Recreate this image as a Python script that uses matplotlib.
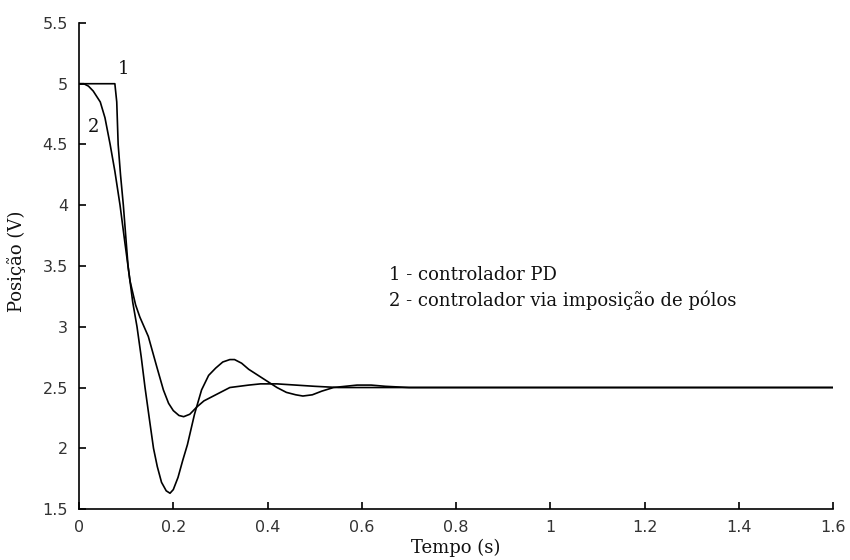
import numpy as np
import matplotlib.pyplot as plt

# curve 1 - controlador PD
t1 = [0.0, 0.076, 0.080, 0.083, 0.088, 0.094, 0.104, 0.114, 0.123, 0.132, 0.140,
      0.150, 0.158, 0.166, 0.175, 0.185, 0.193, 0.200, 0.210, 0.220, 0.230,
      0.245, 0.260, 0.275, 0.290, 0.305, 0.320, 0.330, 0.345, 0.360, 0.380,
      0.400, 0.420, 0.440, 0.460, 0.475, 0.495, 0.515, 0.540, 0.565, 0.590,
      0.620, 0.650, 0.700, 1.600]
y1 = [5.0, 5.0, 4.85, 4.5, 4.25, 4.0, 3.5, 3.2, 3.0, 2.75, 2.5,
      2.22, 2.0, 1.85, 1.72, 1.65, 1.63, 1.66, 1.76, 1.90, 2.03,
      2.28, 2.48, 2.60, 2.66, 2.71, 2.73, 2.73, 2.70, 2.65, 2.60,
      2.55, 2.50, 2.46, 2.44, 2.43, 2.44, 2.47, 2.50, 2.51, 2.52,
      2.52, 2.51, 2.50, 2.50]

# curve 2 - controlador via imposicao de polos
t2 = [0.0, 0.010, 0.020, 0.030, 0.045, 0.055, 0.066, 0.076, 0.087, 0.097,
      0.108, 0.120, 0.129, 0.147, 0.165, 0.179, 0.190, 0.200, 0.212, 0.222,
      0.235, 0.250, 0.265, 0.280, 0.300, 0.320, 0.340, 0.360, 0.385, 0.420,
      0.460, 0.500, 0.550, 1.600]
y2 = [5.0, 5.0, 4.98, 4.94, 4.85, 4.72, 4.5, 4.28, 4.0, 3.70,
      3.38, 3.18, 3.08, 2.92, 2.67, 2.48, 2.37, 2.31, 2.27, 2.26,
      2.28, 2.34, 2.39, 2.42, 2.46, 2.50, 2.51, 2.52, 2.53, 2.53,
      2.52, 2.51, 2.50, 2.50]

legend_lines = ["1 - controlador PD", "2 - controlador via imposição de pólos"]

serif = "DejaVu Serif"

fig = plt.figure(figsize=(8.5, 5.6), dpi=100)
ax = fig.add_axes([0.093, 0.091, 0.887, 0.868])

ax.plot(t1, y1, color="black", linewidth=1.2)
ax.plot(t2, y2, color="black", linewidth=1.2)

ax.text(0.083, 5.08, "1", fontsize=13, family=serif, color="#111111")
ax.text(0.018, 4.60, "2", fontsize=13, family=serif, color="#111111")

ax.text(0.658, 3.43, legend_lines[0], fontsize=13, family=serif,
        va="center", color="#111111")
ax.text(0.658, 3.22, legend_lines[1], fontsize=13, family=serif,
        va="center", color="#111111")

ax.set_xlim(0, 1.6)
ax.set_ylim(1.5, 5.5)
ax.set_xticks(np.arange(0, 1.61, 0.2))
ax.set_yticks(np.arange(1.5, 5.51, 0.5))
ax.set_xticklabels(["0", "0.2", "0.4", "0.6", "0.8", "1", "1.2", "1.4", "1.6"])
ax.set_yticklabels(["1.5", "2", "2.5", "3", "3.5", "4", "4.5", "5", "5.5"])
ax.tick_params(direction="in", length=5, width=1.2, labelsize=11.5,
               labelcolor="#333333", pad=8)

ax.spines["top"].set_visible(False)
ax.spines["right"].set_visible(False)
ax.spines["left"].set_linewidth(1.2)
ax.spines["bottom"].set_linewidth(1.2)

ax.set_xlabel("Tempo (s)", fontsize=13, family=serif, color="#111111")
ax.set_ylabel("Posição (V)", fontsize=13, family=serif, color="#111111")
ax.xaxis.set_label_coords(0.5, -0.062)
ax.yaxis.set_label_coords(-0.070, 0.51)

fig.savefig("out.png", dpi=100)
